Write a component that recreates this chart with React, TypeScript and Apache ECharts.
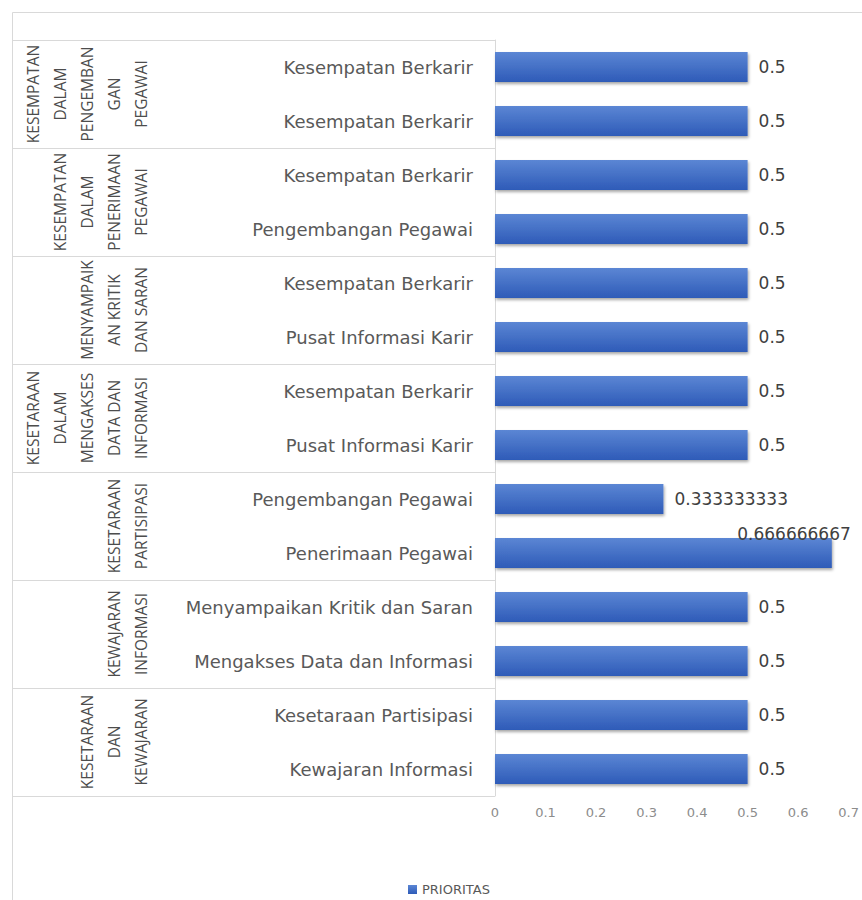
import React, { useEffect, useRef } from "react";
import * as echarts from "echarts";

const categories: string[] = [
  "Kesempatan Berkarir",
  "Kesempatan Berkarir",
  "Kesempatan Berkarir",
  "Pengembangan Pegawai",
  "Kesempatan Berkarir",
  "Pusat Informasi Karir",
  "Kesempatan Berkarir",
  "Pusat Informasi Karir",
  "Pengembangan Pegawai",
  "Penerimaan Pegawai",
  "Menyampaikan Kritik dan Saran",
  "Mengakses Data dan Informasi",
  "Kesetaraan Partisipasi",
  "Kewajaran Informasi",
];

const groups: string[] = [
  "KESEMPATAN\nDALAM\nPENGEMBAN\nGAN\nPEGAWAI",
  "KESEMPATAN\nDALAM\nPENERIMAAN\nPEGAWAI",
  "MENYAMPAIK\nAN KRITIK\nDAN SARAN",
  "KESETARAAN\nDALAM\nMENGAKSES\nDATA DAN\nINFORMASI",
  "KESETARAAN\nPARTISIPASI",
  "KEWAJARAN\nINFORMASI",
  "KESETARAAN\nDAN\nKEWAJARAN",
];

const prioritas: number[] = [
  0.5, 0.5, 0.5, 0.5, 0.5, 0.5, 0.5, 0.5, 0.333333333, 0.666666667, 0.5, 0.5, 0.5, 0.5,
];

const seriesName = "PRIORITAS";

export default function App() {
  const ref = useRef<HTMLDivElement>(null);
  useEffect(() => {
    if (!ref.current) return;
    const chart = echarts.init(ref.current, null, { renderer: "svg" });
    const border = "#d9d9d9";
    const data = prioritas.map((v) => {
      if (v > 0.6) {
        return {
          value: v,
          label: { position: "insideTopRight", offset: [30, -24] },
        };
      }
      return { value: v };
    });
    chart.setOption({
      animation: false,
      backgroundColor: "#ffffff",
      graphic: [
        {
          type: "rect",
          silent: true,
          shape: { x: 12.5, y: 12.5, width: 900, height: 950 },
          style: { fill: "none", stroke: border, lineWidth: 1 },
        },
      ],
      grid: { left: 495, right: 4, top: 40, bottom: 104, containLabel: false },
      legend: {
        left: 403,
        top: 878,
        icon: "rect",
        itemWidth: 9,
        itemHeight: 9,
        itemGap: 4,
        textStyle: { fontFamily: "DejaVu Sans", fontSize: 13, color: "#595959" },
        data: [seriesName],
      },
      xAxis: {
        type: "value",
        min: 0,
        max: 0.7,
        interval: 0.1,
        axisLine: { show: false },
        axisTick: { show: false },
        splitLine: { show: false },
        axisLabel: {
          fontFamily: "DejaVu Sans",
          fontSize: 13,
          color: "#8c8c8c",
          margin: 10,
          formatter: (v: number) => String(Math.round(v * 10) / 10),
        },
      },
      yAxis: [
        {
          type: "category",
          data: categories,
          inverse: true,
          position: "left",
          axisLine: { show: true, lineStyle: { color: border } },
          axisTick: { show: false },
          axisLabel: {
            fontFamily: "DejaVu Sans",
            fontSize: 18,
            color: "#595959",
            margin: 22,
            interval: 0,
          },
        },
        {
          type: "category",
          data: groups,
          inverse: true,
          position: "left",
          offset: 483,
          axisLine: { show: false },
          axisTick: {
            show: true,
            inside: true,
            length: 483,
            lineStyle: { color: border },
          },
          axisLabel: {
            rotate: 90,
            interval: 0,
            fontFamily: "Open Sans",
            fontSize: 15.5,
            lineHeight: 27,
            color: "#4d4d4d",
            margin: -142,
          },
        },
      ],
      series: [
        {
          name: seriesName,
          type: "bar",
          yAxisIndex: 0,
          barWidth: 30,
          data,
          itemStyle: {
            color: new echarts.graphic.LinearGradient(0, 0, 0, 1, [
              { offset: 0, color: "#5b86d4" },
              { offset: 1, color: "#2e5bb8" },
            ]),
            shadowColor: "rgba(0,0,0,0.35)",
            shadowBlur: 3,
            shadowOffsetY: 2,
            shadowOffsetX: 1,
          },
          label: {
            show: true,
            position: "right",
            distance: 11,
            fontFamily: "DejaVu Sans",
            fontSize: 17,
            color: "#404040",
            formatter: (p: any) => String(p.value),
          },
        },
      ],
    });
    return () => chart.dispose();
  }, []);
  return (
    <div
      ref={ref}
      style={{ position: "fixed", left: 0, top: 0, width: 862, height: 900 }}
    />
  );
}
